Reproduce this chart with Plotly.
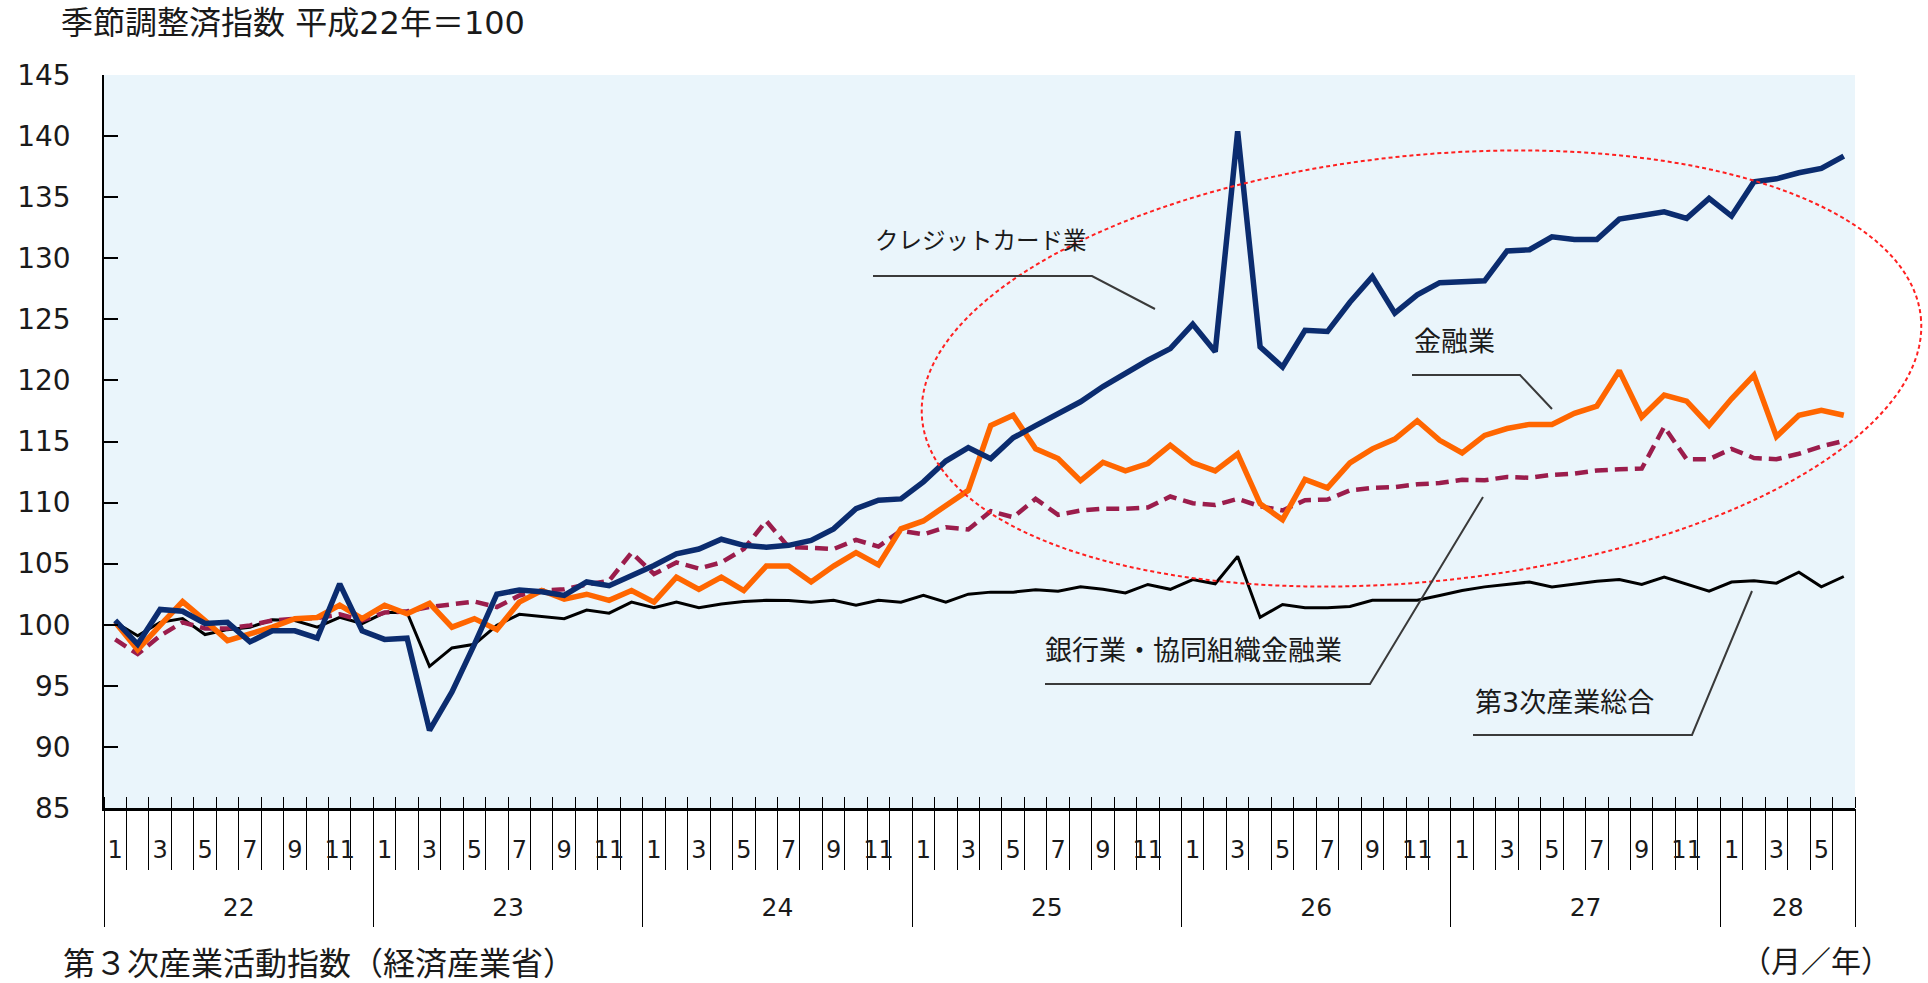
import math
import plotly.graph_objects as go

# ---------------- data ----------------
years = ["22", "23", "24", "25", "26", "27", "28"]
months_per_year = [12, 12, 12, 12, 12, 12, 6]
month_numbers = [m for n in months_per_year for m in range(1, n + 1)]

credit_card = [
    100.35, 98.4, 101.25, 101.1, 100.1, 100.2, 98.6, 99.5, 99.5, 98.9, 103.35, 99.5,
    98.8, 98.9, 91.35, 94.5, 98.4, 102.5, 102.85, 102.7, 102.4, 103.5, 103.2, 104.0,
    104.85, 105.8, 106.2, 107.0, 106.5, 106.35, 106.5, 106.9, 107.85, 109.5, 110.2, 110.3,
    111.7, 113.4, 114.5, 113.6, 115.3, 116.3, 117.3, 118.25, 119.5, 120.6, 121.65, 122.6,
    124.6, 122.35, 140.4, 122.75, 121.1, 124.1, 124.0, 126.4, 128.5, 125.5, 127.0, 128.0,
    128.07, 128.15, 130.6, 130.7, 131.76, 131.54, 131.54, 133.2, 133.5, 133.8, 133.26, 134.9,
    133.45, 136.26, 136.5, 137.0, 137.35, 138.36,
]
finance = [
    100.2, 97.95, 99.95, 101.9, 100.35, 98.7, 99.25, 99.8, 100.5, 100.6, 101.6, 100.5,
    101.6, 100.9, 101.75, 99.8, 100.5, 99.6, 101.85, 102.8, 102.1, 102.5, 102.0, 102.8,
    101.85, 103.9, 102.9, 103.9, 102.8, 104.8, 104.8, 103.5, 104.8, 105.9, 104.9, 107.85,
    108.5, 109.75, 111.0, 116.3, 117.15, 114.4, 113.6, 111.8, 113.3, 112.6, 113.2, 114.7,
    113.25, 112.6, 114.0, 109.9, 108.6, 111.9, 111.2, 113.25, 114.4, 115.2, 116.7, 115.1,
    114.07, 115.5, 116.06, 116.4, 116.4, 117.3, 117.9, 120.8, 117.0, 118.8, 118.3, 116.33,
    118.5, 120.43, 115.4, 117.15, 117.56, 117.15,
]
banking = [
    98.8, 97.6, 99.1, 100.2, 99.7, 99.7, 99.95, 100.35, 100.5, 100.55, 100.85, 100.35,
    101.0, 101.1, 101.45, 101.7, 101.9, 101.45, 102.4, 102.8, 102.9, 103.3, 103.6, 105.9,
    104.15, 105.1, 104.6, 105.1, 106.2, 108.5, 106.35, 106.3, 106.2, 106.95, 106.4, 107.7,
    107.4, 107.98, 107.8, 109.3, 108.8, 110.3, 109.0, 109.35, 109.5, 109.5, 109.6, 110.5,
    109.95, 109.8, 110.3, 109.7, 109.35, 110.2, 110.25, 111.0, 111.2, 111.27, 111.5, 111.6,
    111.87, 111.83, 112.1, 112.03, 112.27, 112.38, 112.62, 112.72, 112.78, 116.2, 113.55, 113.55,
    114.4, 113.65, 113.55, 114.0, 114.6, 115.05,
]
tertiary = [
    100.2, 99.1, 100.2, 100.5, 99.2, 99.6, 99.8, 100.4, 100.35, 99.8, 100.6, 100.1,
    101.0, 101.0, 96.6, 98.1, 98.4, 99.95, 100.85, 100.7, 100.5, 101.2, 100.95, 101.85,
    101.4, 101.85, 101.4, 101.7, 101.9, 102.0, 101.98, 101.85, 102.0, 101.6, 102.0, 101.85,
    102.4, 101.85, 102.5, 102.67, 102.67, 102.86, 102.75, 103.1, 102.9, 102.6, 103.3, 102.9,
    103.7, 103.35, 105.6, 100.6, 101.66, 101.4, 101.4, 101.5, 102.0, 102.0, 102.0, 102.4,
    102.8, 103.1, 103.3, 103.5, 103.1, 103.35, 103.57, 103.7, 103.3, 103.9, 103.35, 102.75,
    103.5, 103.6, 103.4, 104.3, 103.1, 103.95,
]

series_names = ["第3次産業総合", "銀行業・協同組織金融業", "金融業", "クレジットカード業"]
y_ticks = list(range(85, 146, 5))

title_text = "季節調整済指数 平成22年＝100"
source_text = "第３次産業活動指数（経済産業省）"
unit_text = "（月／年）"

# ---------------- layout constants ----------------
W, H = 1928, 983
ML, MR, MT, MB = 104, 73, 75, 175
PW, PH = W - ML - MR, H - MT - MB
FONT = "DejaVu Sans, Noto Sans CJK JP, sans-serif"

n = len(month_numbers)
x = list(range(n))
X_RANGE = [-0.5, n - 0.5]
Y_RANGE = [85, 145]


def px2paper(px, py):
    return (px - ML) / PW, (MT + PH - py) / PH


def px2data(px, py):
    xd = X_RANGE[0] + (px - ML) / PW * (X_RANGE[1] - X_RANGE[0])
    yd = Y_RANGE[1] - (py - MT) / PH * (Y_RANGE[1] - Y_RANGE[0])
    return xd, yd


fig = go.Figure()

styles = [
    dict(color="#000000", width=3),
    dict(color="#9B1D4C", width=4.5, dash="13px,7px"),
    dict(color="#FF6600", width=5.5),
    dict(color="#0B2C6F", width=5.5),
]
for name, vals, st in zip(series_names, [tertiary, banking, finance, credit_card], styles):
    fig.add_trace(go.Scatter(x=x, y=vals, mode="lines", name=name, line=st,
                             showlegend=False, hoverinfo="x+y+name"))

# dummy traces so the helper axes exist
fig.add_trace(go.Scatter(x=[None], y=[None], xaxis="x2", yaxis="y", showlegend=False))
fig.add_trace(go.Scatter(x=[None], y=[None], xaxis="x3", yaxis="y", showlegend=False))

month_bounds = [i - 0.5 for i in range(n + 1)]
year_bounds = [-0.5]
year_centers = []
acc = 0
for cnt in months_per_year:
    year_centers.append(acc + (cnt - 1) / 2)
    acc += cnt
    year_bounds.append(acc - 0.5)

odd_idx = [i for i, m in enumerate(month_numbers) if m % 2 == 1]

fig.update_layout(
    width=W, height=H,
    margin=dict(l=ML, r=MR, t=MT, b=MB, pad=0),
    paper_bgcolor="white",
    plot_bgcolor="#EAF5FB",
    font=dict(family=FONT, color="#1a1a1a"),
    xaxis=dict(
        range=X_RANGE, tickmode="array", tickvals=odd_idx,
        ticktext=[str(month_numbers[i]) for i in odd_idx],
        ticks="", showline=True, linecolor="black", linewidth=2.5,
        showgrid=False, zeroline=False, tickfont=dict(size=24, family=FONT),
        ticklabelstandoff=18,
        minor=dict(tickmode="array", tickvals=month_bounds, ticks="outside",
                   ticklen=59, tickcolor="black", tickwidth=1.3, showgrid=False),
    ),
    xaxis2=dict(
        overlaying="x", anchor="y", side="bottom", range=X_RANGE,
        tickmode="array", tickvals=year_bounds, ticks="outside", ticklen=118,
        tickcolor="black", tickwidth=1.3, showticklabels=False,
        showline=False, showgrid=False, zeroline=False,
    ),
    xaxis3=dict(
        overlaying="x", anchor="y", side="bottom", range=X_RANGE,
        tickmode="array", tickvals=year_centers, ticktext=years, ticks="",
        tickfont=dict(size=25, family=FONT), ticklabelstandoff=82,
        showline=False, showgrid=False, zeroline=False,
        minor=dict(tickmode="array", tickvals=month_bounds, ticks="inside",
                   ticklen=11, tickcolor="black", tickwidth=1.3, showgrid=False),
    ),
    yaxis=dict(
        range=Y_RANGE, tickmode="array", tickvals=y_ticks,
        ticks="inside", ticklen=14, tickwidth=1.5, tickcolor="black",
        showline=True, linecolor="black", linewidth=1.5,
        showgrid=False, zeroline=False, tickfont=dict(size=28, family=FONT),
        ticklabelstandoff=26,
    ),
)

# ---------------- ellipse (highlight) ----------------
cx, cy, a, b, phi = 1421.5, 368.5, 502, 213, math.radians(-5.9)
pts = []
for k in range(181):
    t = 2 * math.pi * k / 180
    X = cx + a * math.cos(t) * math.cos(phi) - b * math.sin(t) * math.sin(phi)
    Y = cy + a * math.cos(t) * math.sin(phi) + b * math.sin(t) * math.cos(phi)
    pts.append(px2paper(X, Y))
path = "M " + " L ".join(f"{p[0]:.5f},{p[1]:.5f}" for p in pts) + " Z"
fig.add_shape(type="path", path=path, xref="paper", yref="paper",
              line=dict(color="#FF2020", width=2, dash="4px,3px"), layer="above")

# ---------------- series labels with leader lines ----------------
label_defs = [
    # text, text-left px, text-center-y px, font size, leader polyline in px
    ("クレジットカード業", 873, 241, 23.5, [(873, 276), (1092, 276), (1155, 309)]),
    ("金融業", 1412, 341, 27, [(1412, 375), (1520, 375), (1552, 409)]),
    ("銀行業・協同組織金融業", 1043, 650, 27, [(1045, 684), (1370, 684), (1483, 497)]),
    ("第3次産業総合", 1473, 702, 27, [(1473, 735), (1692, 735), (1752, 591)]),
]
for txt, lx, ly, fs, poly in label_defs:
    xd, yd = px2data(lx, ly)
    fig.add_annotation(x=xd, y=yd, xref="x", yref="y", text=txt, showarrow=False,
                       xanchor="left", yanchor="middle",
                       font=dict(size=fs, family=FONT, color="#1a1a1a"))
    dpts = [px2data(px, py) for px, py in poly]
    p = "M " + " L ".join(f"{u:.4f},{v:.4f}" for u, v in dpts)
    fig.add_shape(type="path", path=p, xref="x", yref="y",
                  line=dict(color="#3a3a3a", width=2))

# ---------------- titles ----------------
tx, ty = px2paper(59, 23)
fig.add_annotation(x=tx, y=ty, xref="paper", yref="paper", text=title_text,
                   showarrow=False, xanchor="left", yanchor="middle",
                   font=dict(size=32, family=FONT, color="#1a1a1a"))
sx, sy = px2paper(61, 964)
fig.add_annotation(x=sx, y=sy, xref="paper", yref="paper", text=source_text,
                   showarrow=False, xanchor="left", yanchor="middle",
                   font=dict(size=32, family=FONT, color="#1a1a1a"))
ux, uy = px2paper(1893, 961)
fig.add_annotation(x=ux, y=uy, xref="paper", yref="paper", text=unit_text,
                   showarrow=False, xanchor="right", yanchor="middle",
                   font=dict(size=30, family=FONT, color="#1a1a1a"))

fig.write_html("out.html", config={"displayModeBar": False},
               post_script="document.body.style.margin='0';document.body.style.overflow='hidden';")
